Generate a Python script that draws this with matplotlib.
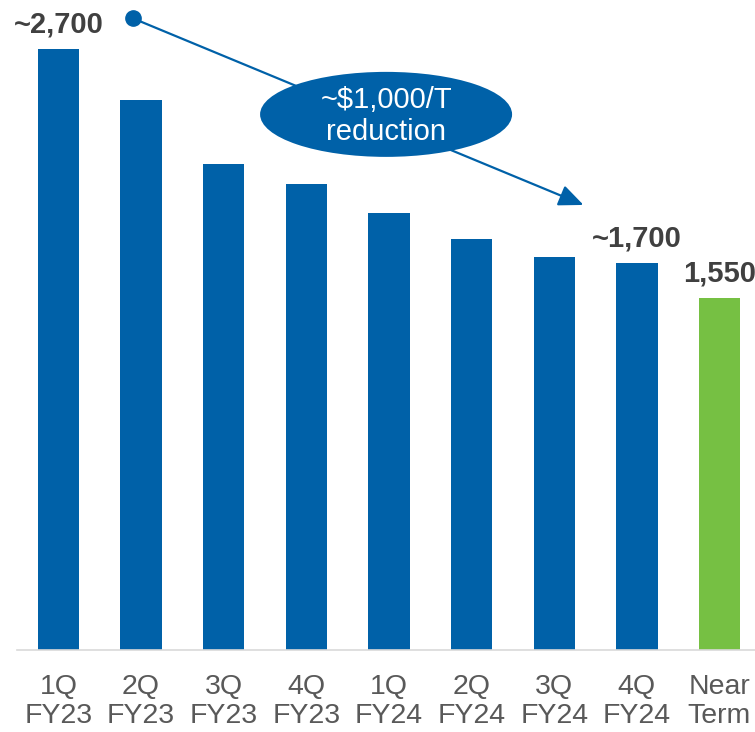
import matplotlib
matplotlib.use("Agg")
from matplotlib import pyplot as plt
import matplotlib.patches as mpatches

plt.rcParams['font.family'] = ['Liberation Sans', 'DejaVu Sans']

categories = ["1Q\nFY23", "2Q\nFY23", "3Q\nFY23", "4Q\nFY23", "1Q\nFY24",
              "2Q\nFY24", "3Q\nFY24", "4Q\nFY24", "Near\nTerm"]
values = [2700, 2470, 2185, 2095, 1965, 1845, 1765, 1740, 1580]
value_labels = ["~2,700", "", "", "", "", "", "", "~1,700", "1,550"]
callout_text = "~$1,000/T\nreduction"

blue = "#0061A8"
green = "#76C043"
colors = [blue] * 8 + [green]

fig = plt.figure(figsize=(7.55, 7.32), dpi=100)
# axes: left edge 17px, right 755px, baseline at 650px, top at 0
ax = fig.add_axes([17 / 755, (732 - 650) / 732, (755 - 17) / 755, 650 / 732])

x = list(range(len(categories)))
ax.bar(x, values, width=0.5, color=colors, zorder=2)

ax.set_xlim(-0.502, 8.43)
ax.set_ylim(0, 2921)

for i, (v, lab) in enumerate(zip(values, value_labels)):
    if lab:
        ax.annotate(lab, (i, v), xytext=(0, 12), textcoords="offset points",
                    ha="center", va="baseline", fontsize=21, fontweight="bold",
                    color="#404040")

ax.set_xticks(x)
ax.set_xticklabels(categories, fontsize=20.5, color="#595959", linespacing=1.15)
ax.tick_params(axis="x", length=0, pad=17)
ax.set_yticks([])
for s in ["top", "right", "left"]:
    ax.spines[s].set_visible(False)
ax.spines["bottom"].set_color("#D9D9D9")
ax.spines["bottom"].set_linewidth(1.2)

# callout arrow from the first bar label down to 4Q FY24
ax.annotate("", xy=(6.354, 2000), xytext=(0.898, 2839),
            arrowprops=dict(arrowstyle="-|>,head_length=1.5,head_width=0.65",
                            color=blue, lw=1.6, shrinkA=0, shrinkB=0),
            zorder=3, annotation_clip=False)
ax.plot([0.898], [2839], "o", color=blue, markersize=11, zorder=4, clip_on=False)

ell = mpatches.Ellipse((3.965, 2407), 3.05, 382, facecolor=blue,
                       edgecolor="none", zorder=5)
ax.add_patch(ell)
ax.text(3.965, 2400, callout_text, ha="center", va="center", fontsize=21,
        color="white", linespacing=1.2, zorder=6)

fig.savefig("out.png", dpi=100)
